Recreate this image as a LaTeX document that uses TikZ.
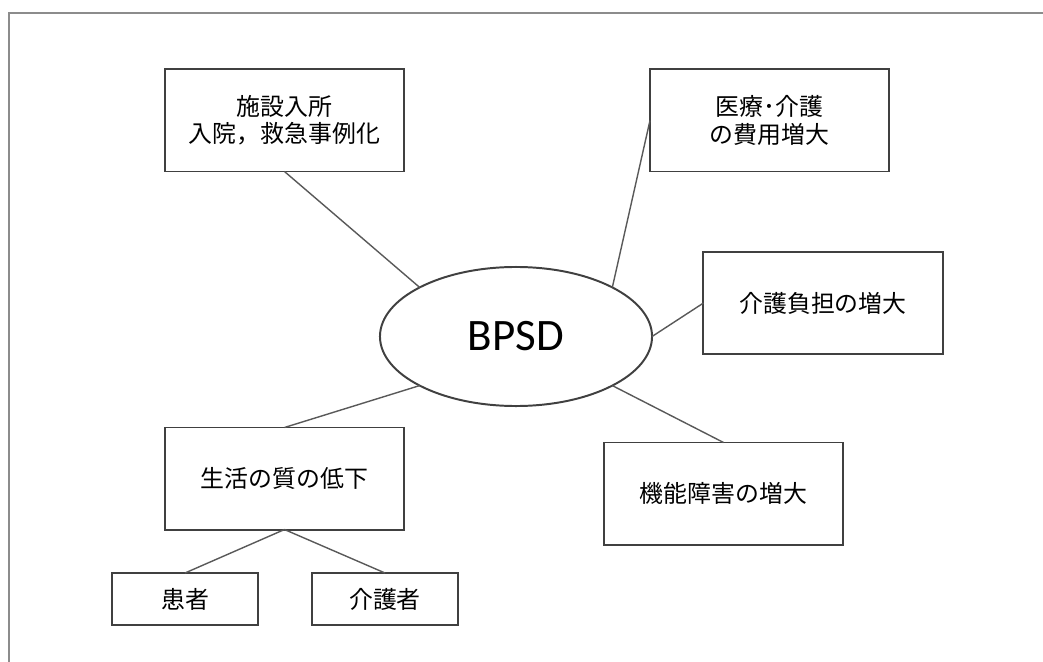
\documentclass[tikz,border=0pt]{standalone}
\usepackage{fontspec}
\usepackage{tikz}
\usetikzlibrary{shapes.geometric}
\newfontfamily\cjk{Noto Sans CJK JP}
\newfontfamily\latinsans{Carlito}
\definecolor{boxline}{HTML}{404040}
\definecolor{linkline}{HTML}{595959}
\definecolor{frameline}{HTML}{8C8C8C}
\tikzset{
  effect/.style={draw=boxline, line width=1.4pt, rectangle, minimum width=5.975cm,
    minimum height=2.55cm, align=center, inner sep=0pt, outer sep=0pt,
    font=\cjk\fontsize{17}{19.5}\selectfont},
  sub/.style={effect, minimum width=3.65cm, minimum height=1.3cm},
  link/.style={draw=linkline, line width=1pt}
}

\begin{document}
\begin{tikzpicture}[x=0.025cm, y=-0.025cm]
\useasboundingbox (0,0) rectangle (1043,662);
\draw[frameline, line width=0.8pt] (9,662) -- (9,13) -- (1043,13);

\node[draw=boxline, line width=1.4pt, ellipse, minimum width=6.8cm, minimum height=3.475cm,
  inner sep=0pt, outer sep=0pt, font=\latinsans\fontsize{32}{36}\selectfont] (bpsd) at (516,336.5) {BPSD};

\node[effect] (shisetsu) at (284.5,120.5) {施設入所\\入院，救急事例化};
\node[effect] (hiyou) at (769.5,120.5) {医療･介護\\の費用増大};
\node[effect] (futan) at (823,303) {介護負担の増大};
\node[effect] (qol) at (284.5,478.5) {生活の質の低下};
\node[effect] (kinou) at (723.5,493.5) {機能障害の増大};
\node[sub] (kanja) at (185,599) {患者};
\node[sub] (kaigosha) at (385,599) {介護者};

\draw[link] (shisetsu.south) -- (bpsd.153);
\draw[link] (hiyou.west) -- (bpsd.27);
\draw[link] (futan.west) -- (bpsd.east);
\draw[link] (qol.north) -- (bpsd.207);
\draw[link] (kinou.north) -- (bpsd.333);
\draw[link] (qol.south) -- (kanja.north);
\draw[link] (qol.south) -- (kaigosha.north);
\end{tikzpicture}
\end{document}
